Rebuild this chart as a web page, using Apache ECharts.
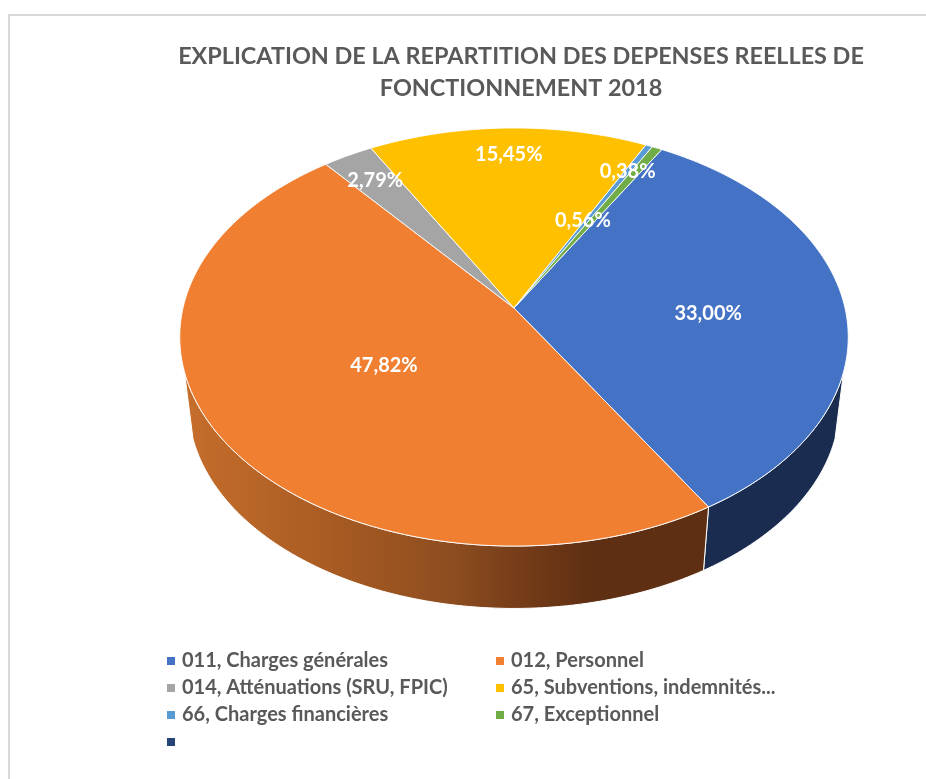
<!DOCTYPE html>
<html>
<head>
<meta charset="utf-8">
<title>Depenses reelles de fonctionnement 2018</title>
<script src="https://cdn.jsdelivr.net/npm/echarts@6/dist/echarts.min.js"></script>
<style>
  html, body { margin: 0; padding: 0; background: #fff; }
  #chart { width: 926px; height: 779px; }
</style>
</head>
<body>
<div id="chart"></div>
<script>
var titleText = 'EXPLICATION DE LA REPARTITION DES DEPENSES REELLES DE\nFONCTIONNEMENT 2018';

var categories = [
  '011, Charges générales',
  '012, Personnel',
  '014, Atténuations (SRU, FPIC)',
  '65, Subventions, indemnités...',
  '66, Charges financières',
  '67, Exceptionnel',
  ' '
];
var shares = [33.00, 47.82, 2.79, 15.45, 0.38, 0.56, 0];

var colors = ['#4472c4', '#f07f31', '#a5a5a5', '#ffc000', '#5b9bd5', '#70ad47', '#264478'];

// where each % label sits: fraction of the radius, and a small turn off the mid angle
var labelRadius = [0.585, 0.465, 0.82, 0.835, 0.825, 0.505, 0];
var labelTurn = [3.2, -0.5, 0, 0, 0, -3, 0];

var startAngle = 30;  // first slice starts here, clockwise from the top

// tilted disc, a plain perspective: unit disc (u, v) to pixels, v points to the viewer
var disc = { cx: 514, topY: 308, a: 331, b: 205, k: 0.1388 };
var depth = { scale: 0.974, y: 376.6 };
// the side wall only shows between these two angles
var wallFrom = 107.3;
var wallTo = 252.7;

function project(deg, r, onBottom) {
  var rad = deg * Math.PI / 180;
  var u = r * Math.sin(rad);
  var v = -r * Math.cos(rad);
  var w = 1 / (1 - disc.k * v);
  var s = onBottom ? depth.scale : 1;
  return [
    disc.cx + disc.a * u * w * s,
    (onBottom ? depth.y : disc.topY) + disc.b * v * w * s
  ];
}

function arc(from, to, onBottom) {
  var pts = [];
  var n = Math.max(2, Math.ceil(Math.abs(to - from)));
  for (var i = 0; i <= n; i++) {
    pts.push(project(from + (to - from) * i / n, 1, onBottom));
  }
  return pts;
}

// the side of the orange slice is shaded from left to right
var orangeSide = new echarts.graphic.LinearGradient(183, 0, 708, 0, [
  { offset: 0, color: '#c66e2c' },
  { offset: 0.3, color: '#a65a22' },
  { offset: 0.5, color: '#8f4e20' },
  { offset: 0.68, color: '#6f3816' },
  { offset: 0.78, color: '#5e2f12' },
  { offset: 1, color: '#5e2f12' }
], true);
var sideColors = ['#1a2d50', orangeSide, '#636363', '#997300', '#2e75b6', '#43682b', '#172a48'];

function renderSlice(params, api) {
  var i = params.seriesIndex;
  var value = api.value(0);
  if (!value) return null;

  var before = 0;
  for (var j = 0; j < i; j++) before += shares[j];
  var from = startAngle + before * 3.6;
  var to = from + value * 3.6;
  var mid = (from + to) / 2 + labelTurn[i];
  var pos = project(mid, labelRadius[i], false);

  var children = [];
  var sideFrom = Math.max(from, wallFrom);
  var sideTo = Math.min(to, wallTo);
  if (sideTo > sideFrom) {
    children.push({
      type: 'polygon',
      z2: 1,
      shape: { points: arc(sideFrom, sideTo, false).concat(arc(sideFrom, sideTo, true).reverse()) },
      style: { fill: sideColors[i], stroke: '#fff', lineWidth: 1 }
    });
  }
  children.push({
    type: 'polygon',
    z2: 10,
    shape: { points: [project(0, 0, false)].concat(arc(from, to, false)) },
    style: { fill: colors[i], stroke: '#fff', lineWidth: 0.9 }
  });
  children.push({
    type: 'text',
    z2: 20,
    style: {
      x: pos[0],
      y: pos[1],
      text: value.toFixed(2).replace('.', ',') + '%',
      fill: '#fff',
      font: 'bold 20px Lato',
      textAlign: 'center',
      textVerticalAlign: 'middle'
    }
  });
  return { type: 'group', children: children };
}

var series = categories.map(function (name, i) {
  return {
    type: 'custom',
    name: name,
    coordinateSystem: 'none',
    itemStyle: { color: colors[i] },
    renderItem: renderSlice,
    data: [[shares[i]]],
    silent: true
  };
});

function legendColumn(left, names) {
  return {
    left: left,
    top: 650,
    orient: 'vertical',
    icon: 'rect',
    itemWidth: 8,
    itemHeight: 8,
    itemGap: 5,
    padding: 0,
    selectedMode: false,
    textStyle: { color: '#595959', fontFamily: 'Lato', fontWeight: 'bold', fontSize: 20, lineHeight: 22, padding: [0, 0, 0, 2] },
    data: names
  };
}

var option = {
  backgroundColor: '#fff',
  animation: false,
  title: {
    text: titleText,
    left: 516,
    top: 35,
    textAlign: 'center',
    textStyle: { color: '#595959', fontFamily: 'Lato', fontWeight: 'bold', fontSize: 23.4, lineHeight: 32 }
  },
  legend: [
    legendColumn(167, [categories[0], categories[2], categories[4], categories[6]]),
    legendColumn(496, [categories[1], categories[3], categories[5]])
  ],
  // the thin frame of the chart area, cut by the screenshot on the right and below
  graphic: [
    { type: 'line', shape: { x1: 8, y1: 15, x2: 926, y2: 15 }, style: { stroke: '#d9d9d9', lineWidth: 2 } },
    { type: 'line', shape: { x1: 9, y1: 15, x2: 9, y2: 779 }, style: { stroke: '#d9d9d9', lineWidth: 2 } }
  ],
  series: series
};

var chart = echarts.init(document.getElementById('chart'), null, { renderer: 'canvas' });
chart.setOption(option);
</script>
</body>
</html>
